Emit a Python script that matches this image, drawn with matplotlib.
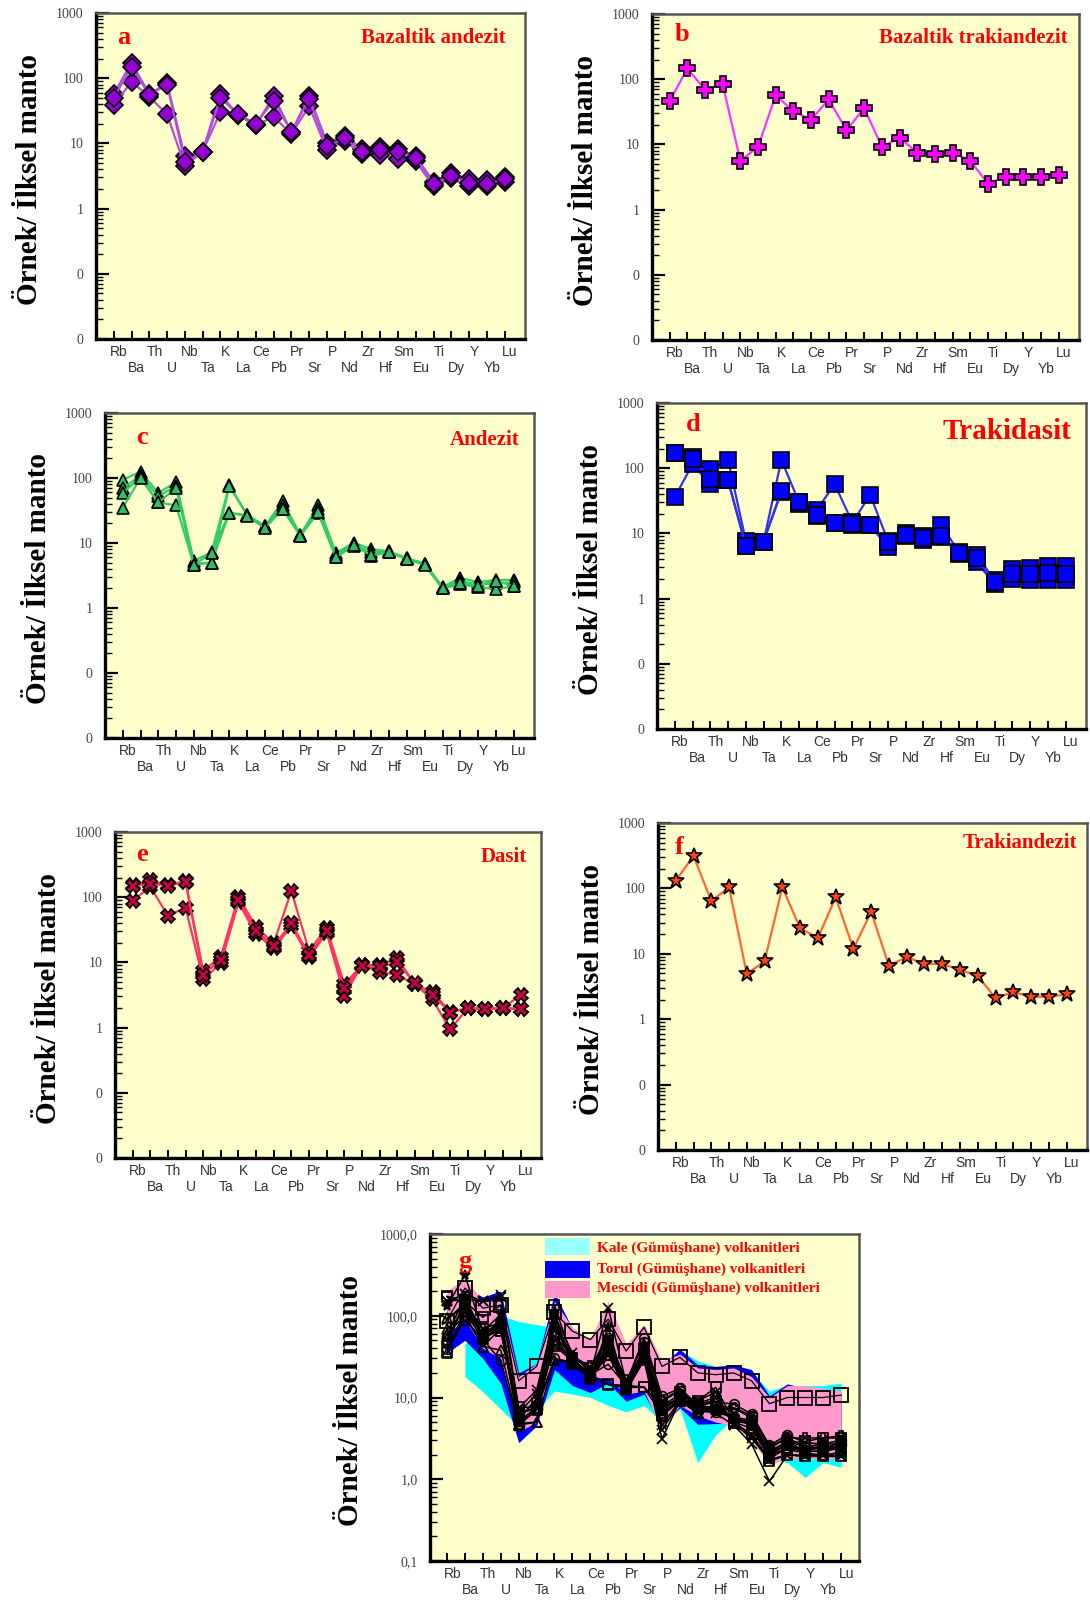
import numpy as np
import matplotlib.pyplot as plt
from matplotlib.patches import Rectangle
from matplotlib.ticker import LogLocator, NullFormatter
from matplotlib.transforms import blended_transform_factory

plt.rcParams['font.family'] = ['Liberation Sans', 'DejaVu Sans']
SERIF = ['Liberation Serif', 'DejaVu Serif']

W, H = 1090, 1611

elements = ['Rb', 'Ba', 'Th', 'U', 'Nb', 'Ta', 'K', 'La', 'Ce', 'Pb', 'Pr', 'Sr',
            'P', 'Nd', 'Zr', 'Hf', 'Sm', 'Eu', 'Ti', 'Dy', 'Y', 'Yb', 'Lu']

# a - Bazaltik andezit
bazaltik_andezit = [
    [57, 173, 57, 84, 6.3, 7.5, 57, 27, 19, 54, 15, 54, 10.3, 13, 8.1, 8.8, 8.3, 6.3, 2.6, 3.5, 2.8, 2.7, 3.0],
    [39, 88, 52, 28, 4.5, 7.5, 30, 27, 19, 25.5, 14, 37, 7.9, 10.9, 6.8, 6.6, 5.7, 5.3, 2.2, 2.9, 2.2, 2.2, 2.6],
    [50, 150, 55, 80, 5.2, 7.3, 50, 28, 20, 45, 15, 48, 9.0, 12, 7.5, 7.8, 7.5, 6.0, 2.4, 3.2, 2.5, 2.4, 2.8],
]

# b - Bazaltik trakiandezit
bazaltik_trakiandezit = [
    [46, 146, 69, 83, 5.6, 9.2, 57, 32, 24, 49, 16.5, 36, 9.2, 12.6, 7.5, 7.0, 7.5, 5.6, 2.5, 3.2, 3.2, 3.2, 3.4],
]

# c - Andezit
andezit = [
    [94, 125, 59, 86, 5.3, 7.2, 78, 27, 18, 44, 13.3, 38, 7.0, 10, 8.1, 7.4, 5.8, 4.8, 2.1, 2.9, 2.5, 2.7, 2.7],
    [69, 110, 52, 76, 4.8, 5.0, 75, 27, 18, 38, 13, 33, 6.5, 9.5, 7.2, 7.4, 5.8, 4.8, 2.1, 2.6, 2.3, 2.4, 2.5],
    [59, 102, 42, 38, 4.6, 5.0, 29, 27, 18, 33, 13.3, 29, 6.0, 9.1, 6.4, 7.2, 5.6, 4.7, 2.0, 2.3, 2.1, 1.96, 2.15],
    [35, 100, 42, 70, 4.6, 7.0, 29, 26, 17, 33, 12.8, 30, 6.0, 9.3, 6.5, 7.3, 5.7, 4.6, 2.0, 2.4, 2.2, 2.6, 2.2],
]

# d - Trakidasit
trakidasit = [
    [173, 149, 96, 134, 7.7, 7.5, 134, 30, 23, 57, 14.7, 39, 7.7, 10, 9.1, 13.3, 5.2, 4.7, 1.9, 2.8, 2.9, 3.2, 3.2],
    [36, 115, 57, 65, 6.3, 7.5, 43, 28, 18.5, 14.3, 13.3, 13.3, 6.1, 9.1, 7.9, 8.8, 4.9, 3.6, 1.66, 2.0, 1.9, 1.9, 1.9],
    [170, 140, 69, 65, 6.5, 7.5, 45, 30, 19, 14.5, 14, 13.5, 7.5, 9.5, 8.5, 9.0, 5.0, 4.2, 1.8, 2.4, 2.4, 2.5, 2.4],
]

# e - Dasit
dasit = [
    [152, 182, 152, 178, 7.4, 12.3, 101, 35, 19.7, 125, 15, 34, 4.6, 9.1, 9.1, 11.6, 4.6, 3.5, 1.74, 1.98, 1.95, 1.98, 3.2],
    [88, 145, 52, 69, 5.5, 9.7, 83, 27, 16.5, 36, 11.9, 28.6, 3.1, 9.1, 7.2, 6.4, 4.6, 2.7, 0.94, 1.98, 1.95, 1.98, 1.9],
    [150, 160, 150, 170, 6.5, 11, 90, 30, 18, 40, 13, 30, 4.0, 8.8, 8.5, 10, 4.8, 3.2, 1.7, 2.0, 1.9, 2.0, 1.95],
]

# f - Trakiandezit
trakiandezit = [
    [131, 314, 64, 104, 4.9, 7.7, 104, 24.8, 17.4, 73, 11.9, 43.7, 6.6, 8.9, 7.0, 7.0, 5.7, 4.6, 2.1, 2.6, 2.2, 2.2, 2.4],
]

# g - comparison fields (Gümüşhane volcanics)
kale_upper = [np.nan, 45, 60, 100, 85, 78, 72, 62, 54, 45, 38, 42, 25, 38, 28, 24, 25, 20, 12, 14, 14, 14, 15]
kale_lower = [np.nan, 18, 11.8, 7.2, 4.4, 7, 12, 11, 10, 8, 6.7, 8, 5, 7.3, 1.6, 3.5, 5.5, 3.5, 1.8, 1.6, 1.05, 1.6, 1.4]
torul_upper = [170, 220, 170, 200, 20, 26, 190, 70, 50, 110, 35, 60, 25, 39, 25, 24, 25, 22, 10.5, 14.7, 13, 12, 11]
torul_lower = [35, 50, 30, 15, 2.8, 4.5, 22, 14, 11.5, 15, 9, 11, 4.5, 7.5, 4.7, 4.8, 4.8, 3.8, 1.7, 1.9, 1.9, 1.9, 1.9]
mescidi_upper = [200, 290, 152, 150, 18, 26, 150, 72, 52, 152, 45, 79, 28, 34, 23, 22, 23, 18, 10, 14, 14, 13, 12]
mescidi_lower = [60, 90, 40, 30, 3.8, 5, 30, 25, 18, 17, 11, 12, 4, 8, 6, 5, 4.5, 3, 1.5, 1.8, 1.8, 1.8, 1.8]
mescidi_sample = [87, 218, 124, 135, 16, 24, 110, 65, 51, 91, 37, 72, 24, 31, 20, 19, 20, 16, 8.4, 10, 10, 10, 10.7]

x = np.arange(len(elements))


def px_rect(left, top, right, bottom):
    return [left / W, 1 - bottom / H, (right - left) / W, (bottom - top) / H]


def setup_axes(ax, g_style=False):
    ax.set_facecolor('#FFFFCC')
    ax.set_yscale('log')
    if g_style:
        ax.set_ylim(0.1, 1000)
        ax.set_yticks([0.1, 1, 10, 100, 1000])
        ax.set_yticklabels(['0,1', '1,0', '10,0', '100,0', '1000,0'])
        ax.set_xlim(-0.95, 23.0)
    else:
        ax.set_ylim(0.01, 1000)
        ax.set_yticks([0.01, 0.1, 1, 10, 100, 1000])
        ax.set_yticklabels(['0', '0', '1', '10', '100', '1000'])
        ax.set_xlim(-1.0, 23.15)
    ax.yaxis.set_minor_locator(LogLocator(base=10, subs=np.arange(2, 10), numticks=20))
    ax.yaxis.set_minor_formatter(NullFormatter())
    ax.tick_params(axis='y', which='major', direction='in', length=9, width=1.6,
                   labelsize=10, labelcolor='#444444', pad=9)
    ax.tick_params(axis='y', which='minor', direction='in', length=5, width=1.0)
    for lab in ax.get_yticklabels():
        lab.set_family(SERIF)
    ax.set_xticks(x)
    ax.set_xticklabels([])
    ax.tick_params(axis='x', direction='in', length=6, width=1.4)
    for side in ['left', 'bottom']:
        ax.spines[side].set_linewidth(2.4)
        ax.spines[side].set_color('black')
    for side in ['top', 'right']:
        ax.spines[side].set_linewidth(1.8)
        ax.spines[side].set_color('#555555')

    # two-row element labels under the axis
    trans = blended_transform_factory(ax.transData, ax.transAxes)
    for i, name in enumerate(elements):
        yy = -0.039 if i % 2 == 0 else -0.089
        ax.text(i + 0.3, yy, name, transform=trans, ha='center', va='center',
                fontsize=10, color='#333333')

    ax.text(-0.185 if g_style else -0.155, 0.49, 'Örnek/ İlksel manto', transform=ax.transAxes,
            rotation=90, ha='center', va='center', fontsize=21, fontweight='bold', family=SERIF)


def add_labels(ax, letter, letter_pos, title, title_pos, title_size=15):
    ax.text(letter_pos[0], letter_pos[1], letter, transform=ax.transAxes, color='red',
            fontsize=19, fontweight='bold', family=SERIF, ha='left', va='center')
    if title:
        ax.text(title_pos[0], title_pos[1], title, transform=ax.transAxes, color='red',
                fontsize=title_size, fontweight='bold', family=SERIF, ha='right', va='center')


def plot_samples(ax, samples, line_color, marker, face, ms):
    for s in samples:
        ax.plot(x, s, color=line_color, lw=1.6, marker=marker, ms=ms, mfc=face,
                mec='black', mew=1.2, zorder=3)


fig = plt.figure(figsize=(W / 100, H / 100), dpi=100)

ax_a = fig.add_axes(px_rect(96, 13, 525, 339))
setup_axes(ax_a)
plot_samples(ax_a, bazaltik_andezit, '#B24FD8', 'D', '#9400D3', 9)
add_labels(ax_a, 'a', (0.05, 0.925), 'Bazaltik andezit', (0.956, 0.923))

ax_b = fig.add_axes(px_rect(652, 14, 1079, 340))
setup_axes(ax_b)
plot_samples(ax_b, bazaltik_trakiandezit, '#FF33FF', 'P', '#FF00FF', 11)
add_labels(ax_b, 'b', (0.054, 0.936), 'Bazaltik trakiandezit', (0.974, 0.926))

ax_c = fig.add_axes(px_rect(105, 413, 534, 738))
setup_axes(ax_c)
plot_samples(ax_c, andezit, '#33CC66', '^', '#33BB66', 8)
add_labels(ax_c, 'c', (0.072, 0.926), 'Andezit', (0.967, 0.917))

ax_d = fig.add_axes(px_rect(657, 403, 1086, 729))
setup_axes(ax_d)
plot_samples(ax_d, trakidasit, '#3333EE', 's', '#0000FF', 11)
add_labels(ax_d, 'd', (0.067, 0.933), 'Trakidasit', (0.966, 0.912), title_size=21)

ax_e = fig.add_axes(px_rect(115, 832, 541, 1158))
setup_axes(ax_e)
plot_samples(ax_e, dasit, '#FF3366', 'X', '#CC0044', 10)
add_labels(ax_e, 'e', (0.049, 0.93), 'Dasit', (0.967, 0.924))

ax_f = fig.add_axes(px_rect(658, 823, 1087, 1150))
setup_axes(ax_f)
plot_samples(ax_f, trakiandezit, '#FF6633', '*', '#FF4411', 12)
add_labels(ax_f, 'f', (0.04, 0.924), 'Trakiandezit', (0.977, 0.939))

# g - all samples over the regional fields
ax_g = fig.add_axes(px_rect(430, 1234, 859, 1561))
setup_axes(ax_g, g_style=True)
kl = np.array(kale_lower)
ku = np.array(kale_upper)
ok = ~np.isnan(kl)
ax_g.fill_between(x[ok], kl[ok], ku[ok], color='#00FFFF', lw=0, zorder=1)
ax_g.fill_between(x, torul_lower, torul_upper, color='#0000FF', lw=0, zorder=1.1)
ax_g.fill_between(x, mescidi_lower, mescidi_upper, color='#FF99CC', lw=0, zorder=1.2)

g_groups = [
    (bazaltik_andezit, 'o', 'none'),
    (bazaltik_trakiandezit, 'P', 'none'),
    (andezit, '^', 'none'),
    (trakidasit, 's', 'none'),
    (dasit, 'x', 'none'),
    (trakiandezit, '*', 'black'),
]
for samples, marker, face in g_groups:
    for s in samples:
        ax_g.plot(x, s, color='black', lw=1.1, marker=marker, ms=7, mfc=face,
                  mec='black', mew=1.2, zorder=3)
ax_g.plot(x, mescidi_sample, color='black', lw=0.9, marker='s', ms=10, mfc='none',
          mec='black', mew=1.3, zorder=3)

add_labels(ax_g, 'g', (0.067, 0.915), None, None)

# legend boxes for the fields
legend_items = [
    ('Kale (Gümüşhane) volkanitleri', '#99FFFF', 0.936, 0.957),
    ('Torul (Gümüşhane) volkanitleri', '#0000FF', 0.865, 0.893),
    ('Mescidi (Gümüşhane) volkanitleri', '#FF99CC', 0.804, 0.835),
]
for label, colour, y0, ytext in legend_items:
    ax_g.add_patch(Rectangle((0.267, y0), 0.106, 0.052, transform=ax_g.transAxes,
                             facecolor=colour, edgecolor='none', zorder=4))
    ax_g.text(0.389, ytext, label, transform=ax_g.transAxes, color='red', fontsize=11,
              fontweight='bold', family=SERIF, va='center', ha='left', zorder=5)

fig.savefig('out.png', dpi=100, facecolor='white')
